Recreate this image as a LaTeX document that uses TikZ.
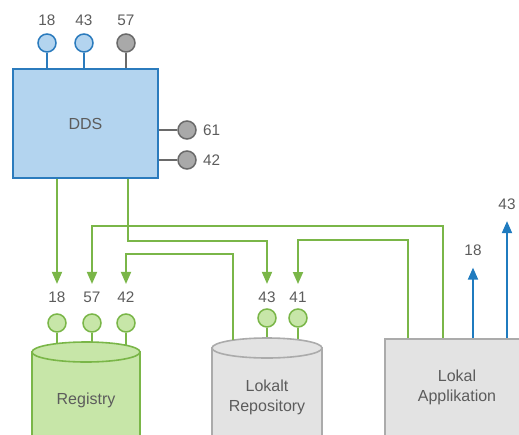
\documentclass[tikz,border=0pt]{standalone}
\usepackage{fontspec}
\setmainfont{Liberation Sans}
\usetikzlibrary{arrows.meta,calc}

\definecolor{ddsfill}{HTML}{B3D4EF}
\definecolor{ddsline}{HTML}{2B7BBD}
\definecolor{grn}{HTML}{7AB648}
\definecolor{grnfill}{HTML}{C7E6A8}
\definecolor{gryfill}{HTML}{A9A9A9}
\definecolor{gryline}{HTML}{6A6A6A}
\definecolor{boxfill}{HTML}{E3E3E3}
\definecolor{boxline}{HTML}{ABABAB}
\definecolor{txt}{HTML}{5C5C5C}
\definecolor{blu}{HTML}{1F7BBF}

\tikzset{
  port/.style={circle, minimum size=18pt, inner sep=0pt, line width=1.5pt},
  bport/.style={port, draw=ddsline, fill=ddsfill},
  gport/.style={port, draw=gryline, fill=gryfill},
  lport/.style={port, draw=grn, fill=grnfill},
  lbl/.style={inner sep=3pt, font=\fontsize{15.3}{18}\selectfont},
  bstem/.style={draw=ddsline, line width=1.6pt},
  gstem/.style={draw=gryline, line width=1.6pt},
  lstem/.style={draw=grn, line width=1.6pt},
  flow/.style={draw=grn, line width=1.8pt, shorten >=5pt,
    -{Triangle[width=10pt,length=12pt]}},
  outflow/.style={draw=blu, line width=1.8pt, shorten >=8.5pt,
    -{Triangle[width=10pt,length=12pt]}},
  cylgreen/.style={draw=grn, fill=grnfill, line width=1.6pt},
  cylgray/.style={draw=boxline, fill=boxfill, line width=1.6pt},
}

\begin{document}
\begin{tikzpicture}[x=1pt, y=-1pt, font=\fontsize{16}{20}\selectfont, text=txt]
\useasboundingbox (0,0) rectangle (519,434);
\clip (0,0) rectangle (519,434);

% DDS block with its ports
\node[draw=ddsline, fill=ddsfill, line width=1.6pt, minimum width=145pt,
      minimum height=109pt, inner sep=0pt] (dds) at (85.5,123.5) {DDS};

\node[bport] (d18) at (47,43) {};
\node[bport] (d43) at (84,43) {};
\node[gport] (d57) at (126,43) {};
\node[gport] (d61) at (187,130) {};
\node[gport] (d42) at (187,160) {};
\draw[bstem] (d18) -- (d18 |- dds.north);
\draw[bstem] (d43) -- (d43 |- dds.north);
\draw[gstem] (d57) -- (d57 |- dds.north);
\draw[gstem] (d61) -- (d61 -| dds.east);
\draw[gstem] (d42) -- (d42 -| dds.east);
\node[lbl] (td18) at (47,20.5) {18};
\node[lbl] (td43) at (84,20.5) {43};
\node[lbl] (td57) at (126,20.5) {57};
\node[lbl, inner sep=0pt, anchor=west] (td61) at (203,130) {61};
\node[lbl, inner sep=0pt, anchor=west] (td42) at (203,160) {42};

% Registry ports (stems first, the cylinder covers their ends)
\node[lport] (r18) at (57,323) {};
\node[lport] (r57) at (92,323) {};
\node[lport] (r42) at (126,323) {};
\draw[lstem] (r18) -- (57,352);
\draw[lstem] (r57) -- (92,352);
\draw[lstem] (r42) -- (126,352);
\node[lbl] (l18) at (57,297.5) {18};
\node[lbl] (l57) at (92,297.5) {57};
\node[lbl] (l42) at (126,297.5) {42};

% Registry cylinder
\path[cylgreen] (32,352) -- (32,450) -- (140,450) -- (140,352) -- cycle;
\path[cylgreen] (86,352) ellipse [x radius=54, y radius=10];
\node (reg) at (86,400) {Registry};

% Local repository ports
\node[lport] (k43) at (267,318) {};
\node[lport] (k41) at (298,318) {};
\draw[lstem] (k43) -- (267,348);
\draw[lstem] (k41) -- (298,348);
\node[lbl] (m43) at (267,297.5) {43};
\node[lbl] (m41) at (298,297.5) {41};

% Local repository cylinder
\path[cylgray] (212,348) -- (212,450) -- (322,450) -- (322,348) -- cycle;
\path[cylgray] (267,348) ellipse [x radius=55, y radius=10];
\node[align=center] (repo) at (267,397) {Lokalt\\Repository};
\coordinate (repotop) at (233,340);

% Local application
\node[draw=boxline, fill=boxfill, line width=1.6pt, minimum width=146pt,
      minimum height=122pt, inner sep=0pt, anchor=north west] (app) at (384,338) {};
\node[align=center] (apptxt) at (457,387) {Lokal\\Applikation};

% Data flows
\draw[flow] (dds.south -| l18) -- (l18);
\draw[flow] ([xshift=-31pt]dds.south east) -- ++(0,62) -| (m43);
\draw[flow] ([xshift=59pt]app.north west) -- ++(0,-112) -| (l57);
\draw[flow] (repotop) -- (233,254) -| (l42);
\draw[flow] ([xshift=24pt]app.north west) -- ++(0,-98) -| (m41);

% Outputs of the local application
\node[lbl] (o18) at (473,250.5) {18};
\node[lbl] (o43) at (507,204) {43};
\draw[outflow] ([xshift=89pt]app.north west) -- (o18);
\draw[outflow] ([xshift=123pt]app.north west) -- (o43);
\end{tikzpicture}
\end{document}
